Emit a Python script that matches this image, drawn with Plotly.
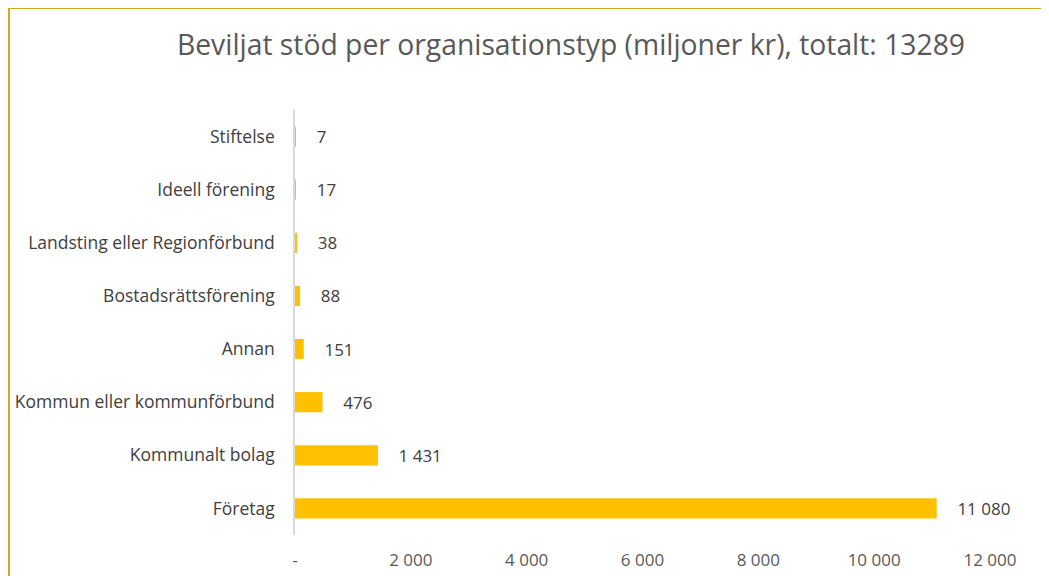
import plotly.graph_objects as go

# data (bottom to top, as drawn)
categories = ["Företag", "Kommunalt bolag", "Kommun eller kommunförbund", "Annan",
              "Bostadsrättsförening", "Landsting eller Regionförbund",
              "Ideell förening", "Stiftelse"]
values = [11080, 1431, 476, 151, 88, 38, 17, 7]
tick_vals = [0, 2000, 4000, 6000, 8000, 10000, 12000]
tick_labels = ["-", "2 000", "4 000", "6 000", "8 000", "10 000", "12 000"]
title = "Beviljat stöd per organisationstyp (miljoner kr), totalt: 13289"

# the page adds an 8px body margin, so the figure is 8px smaller
W, H = 1041, 568
L, R, T, B = 287, 59, 102, 41
pw, ph = W - L - R, H - T - B

fig = go.Figure()
fig.add_trace(go.Bar(
    x=values, y=categories, orientation="h",
    marker=dict(color="#FFC000", line=dict(width=0)),
    texttemplate="\u00a0\u00a0\u00a0\u00a0%{x:,}",
    textposition="outside",
    constraintext="none",
    textfont=dict(size=17, color="#404040"),
    cliponaxis=False,
))

fig.update_layout(
    width=W, height=H,
    margin=dict(l=L, r=R, t=T, b=B),
    paper_bgcolor="white", plot_bgcolor="white",
    font=dict(family="Open Sans", color="#595959"),
    separators=", ",
    showlegend=False,
    bargap=0.62,
    title=dict(text=title, x=(563 - L) / pw, xref="paper", y=1 - 37 / H,
               xanchor="center", yanchor="middle",
               font=dict(size=28.3, color="#595959")),
    xaxis=dict(range=[0, 12000], tickvals=tick_vals, ticktext=tick_labels,
               showgrid=False, zeroline=False, showline=False,
               tickfont=dict(size=17, color="#595959"),
               ticklabelstandoff=13, automargin=False),
    yaxis=dict(showgrid=False, zeroline=False, showline=True,
               linecolor="#D9D9D9", linewidth=1.5,
               tickfont=dict(size=17.5, color="#404040"),
               ticklabelstandoff=15, automargin=False),
)

# chart frame (right and bottom edges fall outside the picture)
fig.add_shape(type="rect", xref="paper", yref="paper",
              x0=(1 - L) / pw, x1=(W + 30 - L) / pw,
              y0=-(H + 30 - T - ph) / ph, y1=1 + (T - 0) / ph,
              line=dict(color="#D9A520", width=2), fillcolor="rgba(0,0,0,0)",
              layer="below")

fig.write_html("out.html")
